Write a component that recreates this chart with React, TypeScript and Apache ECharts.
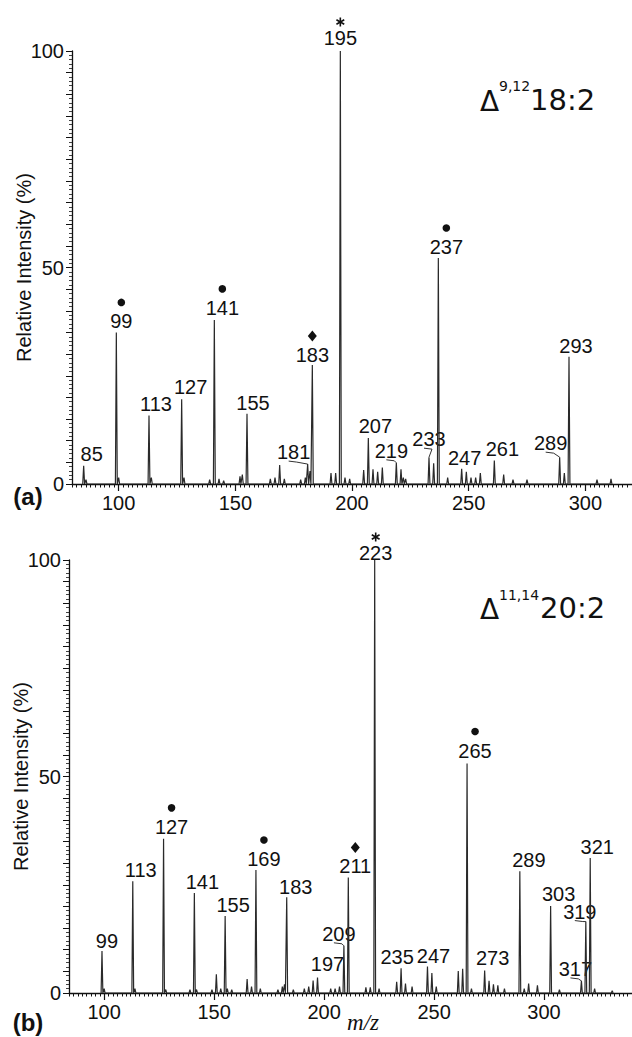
import React, { useEffect, useRef } from "react";
import * as echarts from "echarts";

// ---------- Data: panel (a)  Δ9,12 18:2 ----------
const topMz = [85, 86, 99, 100, 113, 114, 127, 128, 139, 141, 143, 145, 152, 153, 155, 165, 167, 169, 171, 178, 180, 181, 182, 183, 191, 193, 195, 197, 199, 205, 207, 209, 211, 213, 219, 221, 222, 223, 233, 235, 237, 241, 247, 249, 251, 253, 255, 261, 265, 269, 275, 289, 291, 293, 305, 311];
const topInt = [4.2, 1.0, 35.0, 1.5, 15.8, 1.5, 19.6, 1.5, 1.0, 37.9, 1.2, 0.8, 1.8, 2.2, 16.2, 1.2, 1.5, 4.4, 1.2, 1.0, 1.5, 4.6, 3.0, 27.5, 2.5, 2.5, 100, 1.5, 1.2, 3.2, 10.6, 3.4, 2.8, 3.8, 4.9, 3.4, 1.5, 1.2, 6.2, 4.8, 52.2, 1.5, 3.5, 2.8, 1.5, 1.5, 2.5, 5.4, 2.2, 1.0, 1.0, 6.2, 2.5, 29.4, 1.0, 1.2];
const topLabels = [85, 99, 113, 127, 141, 155, 181, 183, 195, 207, 219, 233, 237, 247, 261, 289, 293];
const topMarks: Record<number, string> = { 99: "dot", 141: "dot", 183: "diamond", 195: "star", 237: "dot" };

// ---------- Data: panel (b)  Δ11,14 20:2 ----------
const botMz = [99, 100, 113, 114, 127, 128, 139, 141, 142, 149, 151, 153, 155, 156, 158, 165, 167, 169, 171, 179, 181, 182, 183, 186, 191, 193, 195, 197, 203, 205, 207, 209, 211, 219, 221, 223, 225, 233, 235, 237, 240, 247, 249, 251, 261, 263, 265, 267, 273, 275, 277, 279, 282, 289, 291, 293, 297, 303, 307, 317, 319, 321, 323, 331];
const botInt = [9.7, 1.0, 25.8, 1.0, 35.6, 0.8, 0.8, 23.1, 0.8, 0.8, 4.3, 1.0, 17.8, 1.0, 0.8, 3.2, 1.5, 28.4, 1.0, 0.8, 1.5, 2.0, 22.1, 0.8, 1.0, 1.5, 2.9, 3.6, 1.0, 1.0, 1.5, 10.9, 26.7, 1.3, 1.3, 100, 1.0, 2.6, 5.7, 2.2, 1.5, 6.1, 4.6, 1.5, 5.1, 5.6, 53.0, 1.0, 5.2, 2.8, 2.0, 1.8, 1.0, 28.1, 1.0, 2.2, 1.8, 20.1, 0.8, 2.8, 16.5, 31.2, 1.0, 0.5];
const botLabels = [99, 113, 127, 141, 155, 169, 183, 197, 209, 211, 223, 235, 247, 265, 273, 289, 303, 317, 319, 321];
const botMarks: Record<number, string> = { 127: "dot", 169: "dot", 211: "diamond", 223: "star", 265: "dot" };

const xTicks50 = [100, 150, 200, 250, 300];

// ---------- Label placement (pixel offsets from peak apex; leader flag) ----------
const topLabelPos: Record<number, [number, number, number]> = {
  85: [8, -12, 0], 99: [5, -11, 0], 113: [7, -12, 0], 127: [9, -12, 0], 141: [8, -12, 0],
  155: [6, -11, 0], 181: [-14, -12, 1], 183: [0, -10, 0], 195: [0, -13, 0], 207: [7, -12, 0],
  219: [-5, -12, 1], 233: [0, -18, 1], 237: [8, -11, 0], 247: [3, -11, 0], 261: [8, -12, 0],
  289: [-9, -14, 1], 293: [7, -11, 0],
};
const botLabelPos: Record<number, [number, number, number]> = {
  99: [5, -10, 0], 113: [8, -11, 0], 127: [8, -12, 0], 141: [8, -11, 0], 155: [8, -11, 0],
  169: [8, -11, 0], 183: [9, -10, 0], 197: [10, -13, 0], 209: [-5, -12, 1], 211: [7, -11, 0],
  223: [1, -7, 0], 235: [-4, -11, 0], 247: [6, -11, 0], 265: [8, -13, 0], 273: [8, -12, 0],
  289: [9, -11, 0], 303: [8, -12, 0], 317: [-6, -12, 1], 319: [-6, -10, 1], 321: [7, -11, 0],
};

const FONT = "Liberation Sans, Arial, sans-serif";
const INK = "#111";

function sticks(mz: number[], it: number[]) {
  const out: number[][] = [];
  mz.forEach((m, i) => {
    out.push([m - 0.4, 0], [m, it[i]], [m + 0.4, 0]);
  });
  return out;
}

function labelData(labels: number[], mz: number[], it: number[]) {
  return labels.map((m) => [m, it[mz.indexOf(m)]]);
}

function makeLabelRender(pos: Record<number, [number, number, number]>, marks: Record<number, string>) {
  return (params: any, api: any) => {
    const m = api.value(0);
    const h = api.value(1);
    const p = api.coord([m, h]);
    const lay = pos[m] || [8, -11, 0];
    const lx = p[0] + lay[0];
    const ly = p[1] + lay[1];
    const children: any[] = [
      {
        type: "text",
        style: {
          text: String(m),
          x: lx,
          y: ly,
          fill: INK,
          font: `20px ${FONT}`,
          textAlign: "center",
          textVerticalAlign: "middle",
          align: "center",
          verticalAlign: "middle",
        },
      },
    ];
    if (lay[2]) {
      children.push({
        type: "polyline",
        shape: { points: [[lx - 5, ly + 9], [lx + 3, ly + 10], [p[0], p[1]]] },
        style: { stroke: "#333", lineWidth: 1, fill: null },
      });
    }
    const mk = marks[m];
    if (mk === "dot") {
      children.push({ type: "circle", shape: { cx: lx, cy: ly - 19, r: 3.8 }, style: { fill: INK } });
    } else if (mk === "diamond") {
      const cy = ly - 19;
      children.push({
        type: "polygon",
        shape: { points: [[lx, cy - 5.5], [lx + 4.5, cy], [lx, cy + 5.5], [lx - 4.5, cy]] },
        style: { fill: INK },
      });
    } else if (mk === "star") {
      const cy = ly - 16;
      const r = 4.5;
      for (let k = 0; k < 3; k++) {
        const a = (Math.PI / 2) + (k * Math.PI) / 3;
        children.push({
          type: "line",
          shape: { x1: lx - r * Math.cos(a), y1: cy - r * Math.sin(a), x2: lx + r * Math.cos(a), y2: cy + r * Math.sin(a) },
          style: { stroke: INK, lineWidth: 1.6 },
        });
      }
    }
    return { type: "group", children };
  };
}

function xAxisPair(grid: number, min: number, max: number) {
  return [
    {
      type: "value",
      gridIndex: grid,
      min,
      max,
      interval: 2,
      axisLine: { show: true, onZero: false, lineStyle: { color: INK, width: 1.3 } },
      axisTick: { show: true, length: 3.5, lineStyle: { color: INK, width: 1 } },
      axisLabel: {
        formatter: (v: number) => (v % 50 === 0 ? String(v) : ""),
        fontSize: 20,
        fontFamily: FONT,
        color: INK,
        margin: 9,
      },
      splitLine: { show: false },
    },
    {
      type: "value",
      gridIndex: grid,
      min,
      max,
      position: "bottom",
      axisLine: { show: false },
      axisTick: { show: true, length: 7, customValues: xTicks50, lineStyle: { color: INK, width: 1.2 } },
      axisLabel: { show: false },
      splitLine: { show: false },
    },
  ];
}

function yAxis(grid: number) {
  return {
    type: "value",
    gridIndex: grid,
    min: 0,
    max: 100,
    interval: 5,
    axisLine: { show: true, lineStyle: { color: INK, width: 1.3 } },
    axisTick: { show: true, length: 6, lineStyle: { color: INK, width: 1 } },
    minorTick: { show: true, splitNumber: 5, length: 3, lineStyle: { color: INK, width: 0.8 } },
    axisLabel: {
      formatter: (v: number) => (v % 50 === 0 ? String(v) : ""),
      fontSize: 20,
      fontFamily: FONT,
      color: INK,
      margin: 8,
    },
    splitLine: { show: false },
    minorSplitLine: { show: false },
    name: "Relative Intensity (%)",
    nameLocation: "middle",
    nameGap: 38,
    nameMoveOverlap: false,
    nameTextStyle: { fontSize: 20, fontFamily: FONT, color: INK },
  };
}

export default function App() {
  const ref = useRef<HTMLDivElement>(null);
  useEffect(() => {
    if (!ref.current) return;
    const chart = echarts.init(ref.current, null, { renderer: "svg" });
    const [xa0, xa1] = xAxisPair(0, 80, 320);
    const [xb0, xb1] = xAxisPair(1, 84, 340);
    const option: any = {
      animation: false,
      backgroundColor: "#fff",
      grid: [
        { left: 72, top: 51, width: 560, height: 433, containLabel: false, outerBoundsMode: "none" },
        { left: 69, top: 560, width: 563, height: 433, containLabel: false, outerBoundsMode: "none" },
      ],
      xAxis: [xa0, xa1, xb0, xb1],
      yAxis: [yAxis(0), yAxis(1)],
      series: [
        {
          type: "line",
          xAxisIndex: 0,
          yAxisIndex: 0,
          data: sticks(topMz, topInt),
          symbol: "none",
          lineStyle: { color: "#2a2a2a", width: 1.2 },
          silent: true,
        },
        {
          type: "line",
          xAxisIndex: 2,
          yAxisIndex: 1,
          data: sticks(botMz, botInt),
          symbol: "none",
          lineStyle: { color: "#2a2a2a", width: 1.2 },
          silent: true,
        },
        {
          type: "custom",
          xAxisIndex: 0,
          yAxisIndex: 0,
          data: labelData(topLabels, topMz, topInt),
          renderItem: makeLabelRender(topLabelPos, topMarks),
          silent: true,
        },
        {
          type: "custom",
          xAxisIndex: 2,
          yAxisIndex: 1,
          data: labelData(botLabels, botMz, botInt),
          renderItem: makeLabelRender(botLabelPos, botMarks),
          silent: true,
        },
      ],
      graphic: [
        { type: "text", x: 28, y: 496, style: { text: "(a)", font: `bold 24px ${FONT}`, fill: INK, textAlign: "center", textVerticalAlign: "middle" } },
        { type: "text", x: 28, y: 1022, style: { text: "(b)", font: `bold 24px ${FONT}`, fill: INK, textAlign: "center", textVerticalAlign: "middle" } },
        { type: "text", x: 363, y: 1022, style: { text: "m/z", font: `italic 23px Liberation Serif, Times New Roman, serif`, fill: INK, textAlign: "center", textVerticalAlign: "middle" } },
        { type: "text", x: 480, y: 101, style: { text: "Δ", font: `28px DejaVu Sans`, fill: INK, textAlign: "left", textVerticalAlign: "middle" } },
        { type: "text", x: 499, y: 86, style: { text: "9,12", font: `14px DejaVu Sans`, fill: INK, textAlign: "left", textVerticalAlign: "middle" } },
        { type: "text", x: 530, y: 100, style: { text: "18:2", font: `29px DejaVu Sans`, fill: INK, textAlign: "left", textVerticalAlign: "middle" } },
        { type: "text", x: 480, y: 609, style: { text: "Δ", font: `28px DejaVu Sans`, fill: INK, textAlign: "left", textVerticalAlign: "middle" } },
        { type: "text", x: 499, y: 595, style: { text: "11,14", font: `14px DejaVu Sans`, fill: INK, textAlign: "left", textVerticalAlign: "middle" } },
        { type: "text", x: 540, y: 608, style: { text: "20:2", font: `29px DejaVu Sans`, fill: INK, textAlign: "left", textVerticalAlign: "middle" } },
      ],
    };
    chart.setOption(option);
    return () => chart.dispose();
  }, []);
  return (
    <div
      ref={ref}
      style={{ position: "absolute", left: 0, top: 0, width: 632, height: 1037, background: "#fff" }}
    />
  );
}
